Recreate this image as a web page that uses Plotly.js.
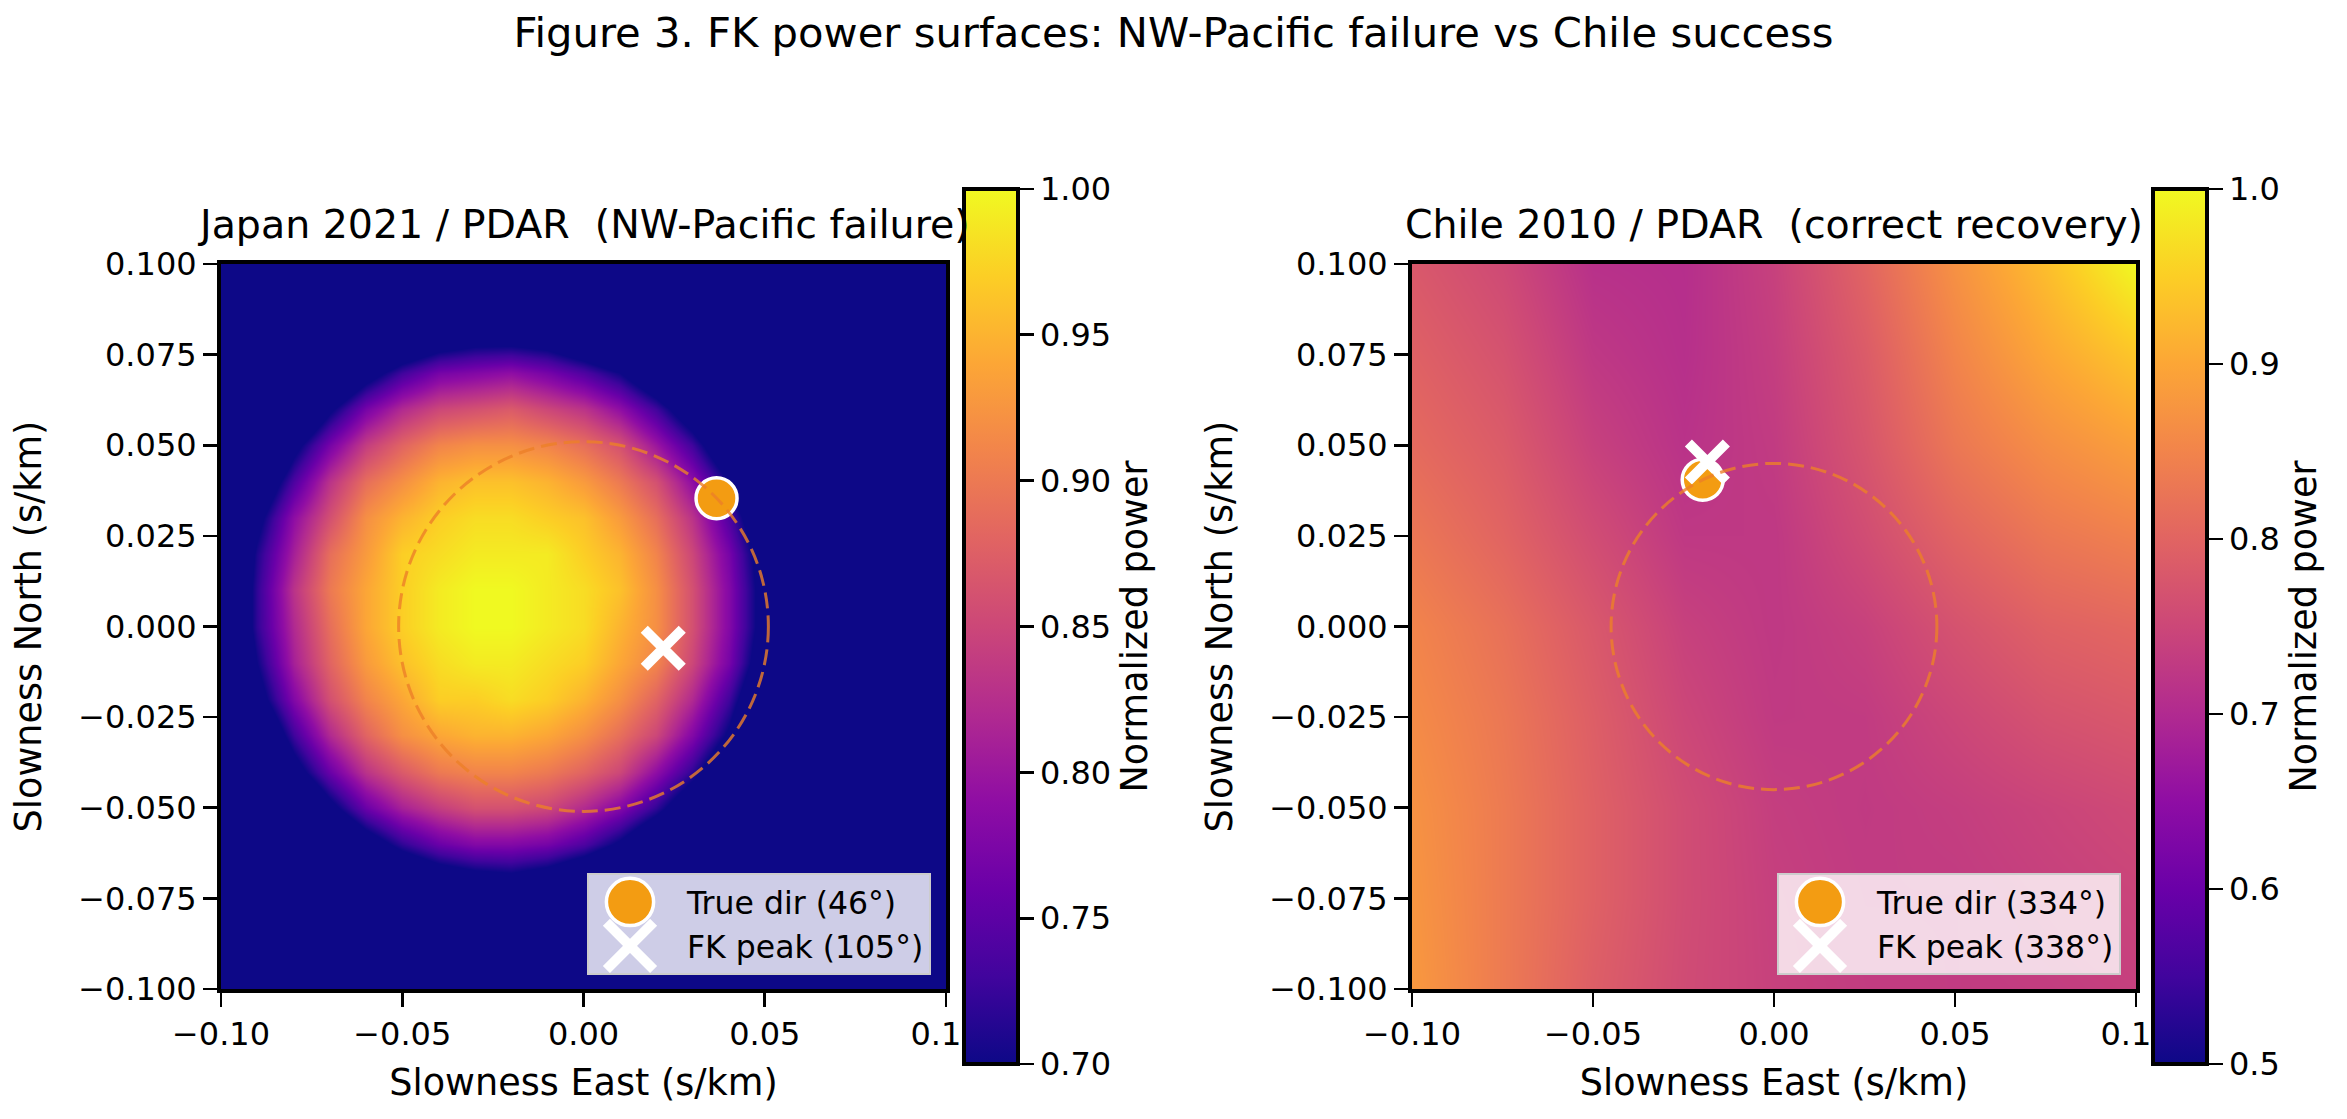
<!DOCTYPE html>
<html><head><meta charset="utf-8">
<script src="https://cdn.plot.ly/plotly-3.0.1.min.js"></script>
<style>html,body{margin:0;padding:0;background:#fff}#chart{width:2347px;height:1119px}</style>
</head><body><div id="chart"></div>
<script>
// ---------- data ----------
const figTitle = 'Figure 3. FK power surfaces: NW-Pacific failure vs Chile success';
const titleJapan = 'Japan 2021 / PDAR \u00A0(NW-Pacific failure)';
const titleChile = 'Chile 2010 / PDAR \u00A0(correct recovery)';
const xLabel = 'Slowness East (s/km)';
const yLabel = 'Slowness North (s/km)';
const cbLabel = 'Normalized power';

// Japan grid (0.01 s/km spacing); values below 0.70 are off the colour scale
const sxJapan = [-0.10,-0.09,-0.08,-0.07,-0.06,-0.05,-0.04,-0.03,-0.02,-0.01,0.00,0.01,0.02,0.03,0.04,0.05,0.06,0.07,0.08,0.09,0.10];
const syJapan = [-0.10,-0.09,-0.08,-0.07,-0.06,-0.05,-0.04,-0.03,-0.02,-0.01,0.00,0.01,0.02,0.03,0.04,0.05,0.06,0.07,0.08,0.09,0.10];
const powerJapan = [
 [.50,.50,.50,.50,.50,.50,.50,.50,.50,.50,.50,.50,.50,.50,.50,.50,.50,.50,.50,.50,.50],
 [.50,.50,.50,.50,.50,.50,.50,.50,.50,.50,.50,.50,.50,.50,.50,.50,.50,.50,.50,.50,.50],
 [.50,.50,.50,.50,.50,.50,.50,.53,.53,.51,.50,.50,.50,.50,.50,.50,.50,.50,.50,.50,.50],
 [.50,.50,.50,.50,.54,.61,.65,.67,.68,.66,.62,.57,.50,.50,.50,.50,.50,.50,.50,.50,.50],
 [.50,.50,.50,.58,.66,.72,.76,.78,.78,.77,.74,.69,.62,.53,.50,.50,.50,.50,.50,.50,.50],
 [.50,.50,.58,.68,.76,.81,.84,.86,.86,.85,.82,.78,.72,.64,.52,.50,.50,.50,.50,.50,.50],
 [.50,.54,.67,.76,.83,.87,.90,.91,.91,.90,.88,.85,.79,.72,.62,.50,.50,.50,.50,.50,.50],
 [.50,.61,.73,.82,.88,.92,.94,.95,.95,.94,.92,.89,.85,.78,.69,.56,.50,.50,.50,.50,.50],
 [.52,.67,.78,.86,.91,.94,.97,.97,.98,.97,.95,.92,.88,.82,.73,.61,.50,.50,.50,.50,.50],
 [.56,.70,.81,.88,.93,.96,.98,.99,.99,.98,.97,.94,.91,.85,.77,.65,.50,.50,.50,.50,.50],
 [.58,.72,.82,.89,.94,.97,.99,1.00,1.00,.99,.98,.95,.92,.86,.78,.67,.52,.50,.50,.50,.50],
 [.58,.72,.83,.90,.94,.97,.99,1.00,1.00,.99,.98,.96,.92,.86,.78,.67,.52,.50,.50,.50,.50],
 [.57,.71,.81,.89,.93,.97,.98,.99,.99,.99,.97,.95,.91,.85,.77,.66,.51,.50,.50,.50,.50],
 [.53,.68,.79,.86,.92,.95,.97,.98,.98,.97,.96,.93,.89,.83,.74,.63,.50,.50,.50,.50,.50],
 [.50,.63,.74,.83,.89,.92,.95,.96,.96,.95,.93,.90,.86,.79,.70,.57,.50,.50,.50,.50,.50],
 [.50,.55,.68,.77,.84,.88,.91,.92,.92,.91,.89,.86,.80,.73,.63,.50,.50,.50,.50,.50,.50],
 [.50,.50,.59,.69,.77,.82,.85,.86,.87,.85,.83,.79,.73,.65,.53,.50,.50,.50,.50,.50,.50],
 [.50,.50,.50,.59,.67,.73,.77,.78,.79,.77,.74,.70,.63,.53,.50,.50,.50,.50,.50,.50,.50],
 [.50,.50,.50,.50,.54,.61,.65,.67,.67,.66,.62,.57,.50,.50,.50,.50,.50,.50,.50,.50,.50],
 [.50,.50,.50,.50,.50,.50,.50,.52,.52,.50,.50,.50,.50,.50,.50,.50,.50,.50,.50,.50,.50],
 [.50,.50,.50,.50,.50,.50,.50,.50,.50,.50,.50,.50,.50,.50,.50,.50,.50,.50,.50,.50,.50]
];

// Chile grid (0.025 s/km spacing)
const sxChile = [-0.100,-0.075,-0.050,-0.025,0.000,0.025,0.050,0.075,0.100];
const syChile = [-0.100,-0.075,-0.050,-0.025,0.000,0.025,0.050,0.075,0.100];
const powerChile = [
 [.880,.835,.790,.758,.740,.732,.730,.733,.738],
 [.875,.835,.795,.760,.738,.730,.730,.738,.745],
 [.870,.835,.795,.760,.735,.728,.735,.745,.755],
 [.860,.830,.790,.750,.728,.730,.750,.770,.780],
 [.850,.820,.780,.740,.725,.740,.770,.795,.805],
 [.830,.800,.760,.725,.725,.760,.800,.830,.845],
 [.810,.785,.740,.715,.730,.775,.830,.865,.890],
 [.795,.770,.725,.710,.735,.785,.850,.900,.940],
 [.780,.755,.712,.708,.740,.800,.870,.930,1.000]
];

// markers: [slowness east, slowness north]
const trueDirJapan = [0.0367, 0.0354];
const fkPeakJapan = [0.0220, -0.0060];
const trueDirChile = [-0.0197, 0.0405];
const fkPeakChile = [-0.0184, 0.0454];
const legendJapan = ['True dir (46\u00B0)', 'FK peak (105\u00B0)'];
const legendChile = ['True dir (334\u00B0)', 'FK peak (338\u00B0)'];
// reference slowness circles (radius, s/km)
const circleRadius = [0.051, 0.045];
const zRangeJapan = [0.70, 1.00];
const zRangeChile = [0.50, 1.00];

// matplotlib "plasma" colour map
const plasma = [
  [0.0, '#0d0887'], [0.1, '#41049d'], [0.2, '#6a00a8'], [0.3, '#8f0da4'],
  [0.4, '#b12a90'], [0.5, '#cc4778'], [0.6, '#e16462'], [0.7, '#f2844b'],
  [0.8, '#fca636'], [0.9, '#fcce25'], [1.0, '#f0f921']
];

// ---------- layout helpers ----------
const W = 2347, H = 1119;
const px = v => v / W;
const py = v => 1 - v / H;
const FONT = 'DejaVu Sans';
const TICK = 32, LABEL = 36.6, SUBT = 39.5, MAINT = 41.7, LEG = 31.5;

function axis(extra) {
  return Object.assign({
    range: [-0.1, 0.1], autorange: false, showgrid: false,
    zeroline: true, zerolinecolor: 'rgba(255,255,255,0.35)', zerolinewidth: 1.5,
    showline: true, linecolor: 'black', linewidth: 4, mirror: true,
    ticks: 'outside', ticklen: 14, tickwidth: 2.7, tickcolor: 'black',
    tickfont: {size: TICK, color: 'black', family: FONT},
    layer: 'above traces', fixedrange: true, automargin: false
  }, extra);
}

function colorbar(xLeft, fmt, dtick, tick0) {
  return {
    x: px(xLeft), xanchor: 'left', xref: 'paper', xpad: 0,
    y: py(626.5), yanchor: 'middle', yref: 'paper', ypad: 0,
    len: 875, lenmode: 'pixels', thickness: 54, thicknessmode: 'pixels',
    outlinewidth: 4, outlinecolor: 'black', bgcolor: 'white',
    ticks: 'outside', ticklen: 14, tickwidth: 2.7, tickcolor: 'black',
    tickmode: 'linear', dtick: dtick, tick0: tick0, tickformat: fmt,
    tickfont: {size: TICK, color: 'black', family: FONT},
    title: {text: cbLabel, side: 'right', font: {size: LABEL, color: 'black', family: FONT}}
  };
}

const ORANGE = '#f39c12';
function trueTrace(pt, name, xa, ya, lg) {
  return {type: 'scatter', mode: 'markers', x: [pt[0]], y: [pt[1]], name: name,
    xaxis: xa, yaxis: ya, legend: lg, cliponaxis: false,
    marker: {symbol: 'circle', size: 41, color: ORANGE, line: {color: 'white', width: 3.5}}};
}
function fkTrace(pt, name, xa, ya, lg) {
  return {type: 'scatter', mode: 'markers', x: [pt[0]], y: [pt[1]], name: name,
    xaxis: xa, yaxis: ya, legend: lg, cliponaxis: false,
    marker: {symbol: 'x-thin', size: 38, color: 'white', line: {color: 'white', width: 10}}};
}

const data = [
  {type: 'heatmap', x: sxJapan, y: syJapan, z: powerJapan, zsmooth: 'best',
   colorscale: plasma, zmin: zRangeJapan[0], zmax: zRangeJapan[1], xaxis: 'x', yaxis: 'y',
   showlegend: false, colorbar: colorbar(964, '.2f', 0.05, 0.7)},
  trueTrace(trueDirJapan, legendJapan[0], 'x', 'y', 'legend'),
  fkTrace(fkPeakJapan, legendJapan[1], 'x', 'y', 'legend'),
  {type: 'heatmap', x: sxChile, y: syChile, z: powerChile, zsmooth: 'best',
   colorscale: plasma, zmin: zRangeChile[0], zmax: zRangeChile[1], xaxis: 'x2', yaxis: 'y2',
   showlegend: false, colorbar: colorbar(2153, '.1f', 0.1, 0.5)},
  trueTrace(trueDirChile, legendChile[0], 'x2', 'y2', 'legend2'),
  fkTrace(fkPeakChile, legendChile[1], 'x2', 'y2', 'legend2')
];

function circleShape(r, xr, yr) {
  return {type: 'circle', xref: xr, yref: yr, x0: -r, x1: r, y0: -r, y1: r, layer: 'above',
    line: {color: 'rgba(236,128,40,0.8)', width: 3, dash: '16px,7px'}};
}

function legendBox(xRight) {
  return {x: px(xRight), xanchor: 'right', y: py(975), yanchor: 'bottom',
    bgcolor: 'rgba(255,255,255,0.8)', bordercolor: '#cccccc', borderwidth: 2,
    font: {size: LEG, color: 'black', family: FONT}, itemwidth: 88, tracegroupgap: 0};
}

const xTitle = {text: xLabel, font: {size: LABEL, color: 'black', family: FONT}, standoff: 18};
const yTitle = {text: yLabel, font: {size: LABEL, color: 'black', family: FONT}, standoff: 26};

const layout = {
  width: W, height: H, autosize: false,
  margin: {l: 0, r: 0, t: 0, b: 0, pad: 0},
  paper_bgcolor: 'white', plot_bgcolor: 'white',
  font: {family: FONT, color: 'black'},
  title: {text: figTitle, font: {size: MAINT, color: 'black', family: FONT},
          x: 0.5, xanchor: 'center', xref: 'paper', y: 1 - 32 / H, yanchor: 'middle', yref: 'container'},
  xaxis: axis({domain: [px(221), px(946)], anchor: 'y', dtick: 0.05, tick0: 0, tickformat: '.2f', title: xTitle}),
  yaxis: axis({domain: [py(989), py(264)], anchor: 'x', dtick: 0.025, tick0: 0, tickformat: '.3f', title: yTitle}),
  xaxis2: axis({domain: [px(1412), px(2136)], anchor: 'y2', dtick: 0.05, tick0: 0, tickformat: '.2f', title: xTitle}),
  yaxis2: axis({domain: [py(989), py(264)], anchor: 'x2', dtick: 0.025, tick0: 0, tickformat: '.3f', title: yTitle}),
  legend: legendBox(931),
  legend2: legendBox(2121),
  shapes: [circleShape(circleRadius[0], 'x', 'y'), circleShape(circleRadius[1], 'x2', 'y2')],
  annotations: [
    {text: titleJapan, xref: 'paper', yref: 'paper', x: px(583.5), y: py(249), xanchor: 'center', yanchor: 'bottom',
     showarrow: false, font: {size: SUBT, color: 'black', family: FONT}},
    {text: titleChile, xref: 'paper', yref: 'paper', x: px(1774), y: py(249), xanchor: 'center', yanchor: 'bottom',
     showarrow: false, font: {size: SUBT, color: 'black', family: FONT}}
  ]
};

const gd = document.getElementById('chart');
Plotly.newPlot(gd, data, layout, {displayModeBar: false, staticPlot: true}).then(function () {
  // enlarge legend glyphs to match marker size in the plot
  const S = 2.95;
  gd.querySelectorAll('path.scatterpts').forEach(function (p) {
    if (!p.closest('[class*="legend"]')) return;
    const t = p.getAttribute('transform') || '';
    if (t.indexOf('scale') >= 0) return;
    p.setAttribute('transform', t + ' translate(-8,0) scale(' + S + ')');
    const isX = (p.getAttribute('d') || '').indexOf('Z') < 0;
    p.style.strokeWidth = (isX ? 10 / S : 3.5 / S) + 'px';
  });
});
</script>
</body></html>
